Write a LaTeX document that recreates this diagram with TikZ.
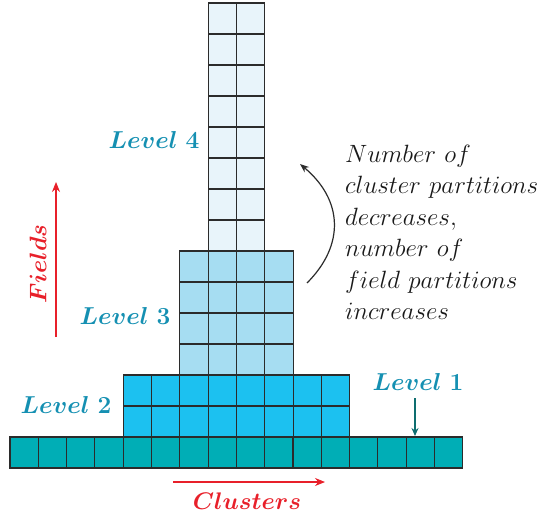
\RequirePackage{fix-cm}
\documentclass[tikz,border=0pt]{standalone}
\usepackage{fontspec}
\setmainfont{lmroman10}[Extension=.otf, UprightFont=*-regular, ItalicFont=*-italic, BoldFont=*-bold, BoldItalicFont=*-bolditalic]
\usetikzlibrary{arrows.meta}
\definecolor{gridc}{HTML}{2B2B2B}
\definecolor{lone}{HTML}{00AEB6}
\definecolor{ltwo}{HTML}{1CC1F0}
\definecolor{lthree}{HTML}{A6DDF2}
\definecolor{lfour}{HTML}{E8F4FA}
\definecolor{lvlc}{HTML}{1590B2}
\definecolor{arrred}{HTML}{E8202A}
\definecolor{darkteal}{HTML}{0E6E70}
\begin{document}
\begin{tikzpicture}[x=1pt,y=-1pt,
  cell/.style={draw=gridc, line width=1.1pt},
  lbl/.style={text=lvlc, font=\fontsize{24.5}{28}\selectfont\boldmath, inner sep=0pt},
  axlbl/.style={text=arrred, font=\fontsize{24}{28}\selectfont\boldmath, inner sep=0pt},
  note/.style={font=\fontsize{25}{31.4}\selectfont, text=black!90, align=left, inner sep=0pt, anchor=north west}]
\useasboundingbox (0,0) rectangle (540,516);
\def\cw{28.3}\def\ch{31}
% Level 1
\foreach \i in {0,...,15} \draw[cell, fill=lone] ({10+\i*\cw},437) rectangle ++(\cw,\ch);
% Level 2
\foreach \r in {0,1} \foreach \i in {0,...,7} \draw[cell, fill=ltwo] ({123.3+\i*\cw},{375+\r*\ch}) rectangle ++(\cw,\ch);
% Level 3
\foreach \r in {0,...,3} \foreach \i in {0,...,3} \draw[cell, fill=lthree] ({179.9+\i*\cw},{251+\r*\ch}) rectangle ++(\cw,\ch);
% Level 4
\foreach \r in {0,...,7} \foreach \i in {0,1} \draw[cell, fill=lfour] ({208.2+\i*\cw},{3+\r*\ch}) rectangle ++(\cw,\ch);
% labels
\node[lbl] (l4) at (154,140) {$Level\;4$};
\node[lbl] (l3) at (125,316) {$Level\;3$};
\node[lbl] (l2) at (66,405) {$Level\;2$};
\node[lbl] (l1) at (418,382) {$Level\;1$};
\coordinate (l1a) at (415,398);
\coordinate (l1b) at (415,436);
\draw[darkteal, line width=1.3pt, -{Stealth[length=8pt,width=7pt]}] (l1a) -- (l1b);
% Fields
\coordinate (fa) at (56,337);
\coordinate (fb) at (56,182);
\draw[arrred, line width=1.1pt, -{Stealth[length=10pt,width=8pt]}] (fa) -- (fb);
\node[axlbl, rotate=90] (fields) at (38,264) {$Fields$};
% Clusters
\coordinate (ca) at (173,482);
\coordinate (cb) at (325,482);
\draw[arrred, line width=1.1pt, -{Stealth[length=10pt,width=8pt]}] (ca) -- (cb);
\node[axlbl] (clusters) at (247,501) {$Clusters$};
% curved arrow
\coordinate (ra) at (307,283);
\coordinate (rb) at (300,164);
\draw[gridc, line width=1.2pt, -{Stealth[length=9pt,width=7pt]}] (ra) .. controls (345,245) and (343,200) .. (rb);
\node[note] (txt) at (345,145) {$Number\ of$\\$cluster\ partitions$\\$decreases,$\\$number\ of$\\$field\ partitions$\\$increases$};
\end{tikzpicture}
\end{document}
